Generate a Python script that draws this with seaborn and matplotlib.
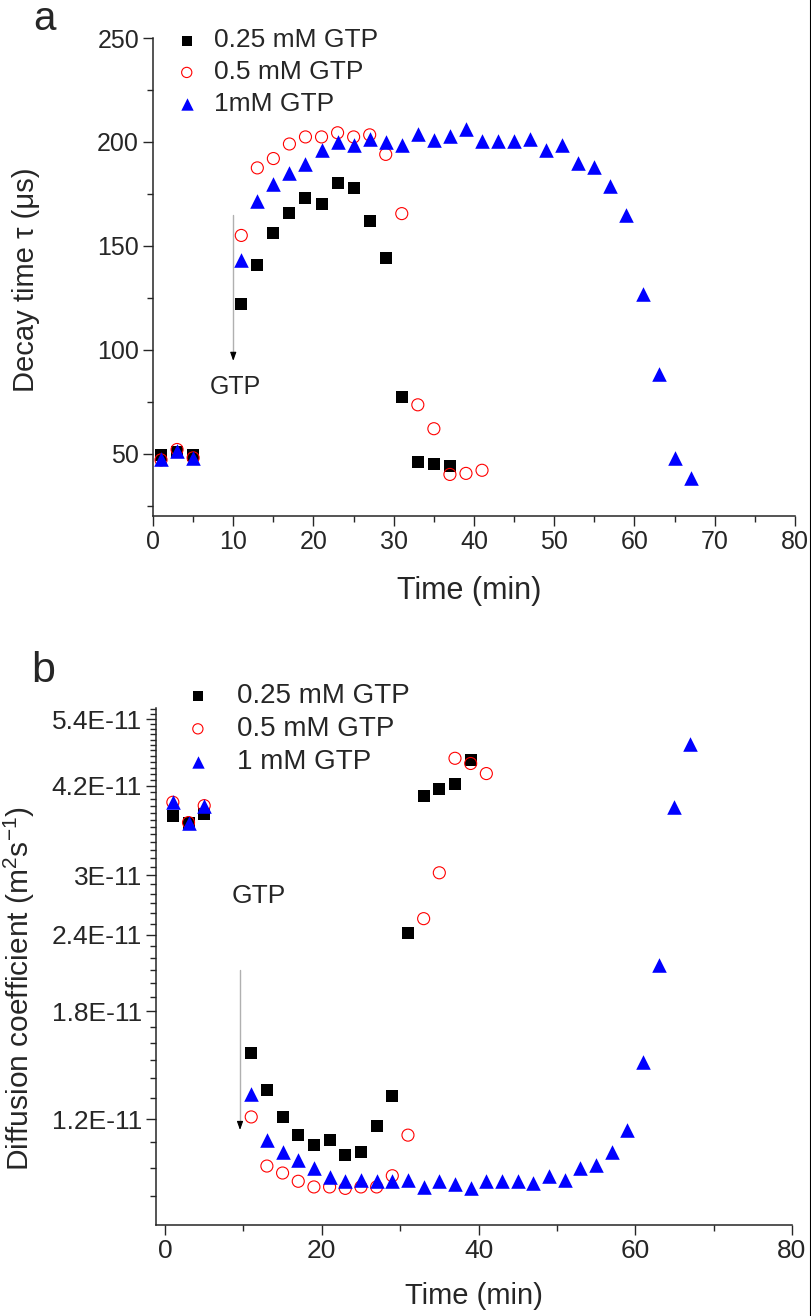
import numpy as np
import pandas as pd
import matplotlib
matplotlib.use("Agg")
import matplotlib.pyplot as plt
from matplotlib.lines import Line2D
from matplotlib.ticker import FixedLocator, MultipleLocator, NullFormatter
import seaborn as sns

# ======================================
# DATA  (panel a: decay time, us)
# ======================================

time_025_a = [1, 3, 5, 11, 13, 15, 17, 19, 21, 23, 25, 27, 29, 31, 33, 35, 37]
tau_025 = [49.5, 51, 49.5, 122, 141, 156, 166, 173, 170, 180, 178, 162, 144, 77.5, 46, 45, 44]

time_05_a = [1, 3, 5, 11, 13, 15, 17, 19, 21, 23, 25, 27, 29, 31, 33, 35, 37, 39, 41]
tau_05 = [47, 52, 48, 155, 187.5, 192, 199, 202.4, 202.4, 204.4, 202.4, 203.4, 194, 165.5,
          73.5, 62, 40, 40.5, 42]

time_1_a = [1, 3, 5, 11, 13, 15, 17, 19, 21, 23, 25, 27, 29, 31, 33, 35, 37, 39, 41,
            43, 45, 47, 49, 51, 53, 55, 57, 59, 61, 63, 65, 67]
tau_1 = [47.6, 51.5, 48, 143, 171.4, 179.6, 185, 189.5, 196, 200, 198.5, 201.5, 200,
         198.5, 204, 200.7, 203, 206, 200.4, 200.5, 200.5, 201.5, 196, 198.5, 190, 188,
         178.6, 165, 126.7, 88.5, 48, 38.5]

# ======================================
# DATA  (panel b: diffusion coefficient, 1E-11 m2/s)
# ======================================

time_025_b = [1, 3, 5, 11, 13, 15, 17, 19, 21, 23, 25, 27, 29, 31, 33, 35, 37, 39]
diff_025 = [3.75, 3.66, 3.78, 1.54, 1.34, 1.21, 1.13, 1.09, 1.11, 1.05, 1.06, 1.17, 1.31,
            2.42, 4.04, 4.15, 4.23, 4.63]

time_05_b = [1, 3, 5, 11, 13, 15, 17, 19, 21, 23, 25, 27, 29, 31, 33, 35, 37, 39, 41]
diff_05 = [3.95, 3.66, 3.9, 1.21, 1.006, 0.98, 0.95, 0.93, 0.93, 0.925, 0.93, 0.93, 0.97,
           1.13, 2.55, 3.03, 4.66, 4.57, 4.4]

time_1_b = [1, 3, 5, 11, 13, 15, 17, 19, 21, 23, 25, 27, 29, 31, 33, 35, 37, 39, 41,
            43, 45, 47, 49, 51, 53, 55, 57, 59, 61, 63, 65, 67]
diff_1 = [3.95, 3.66, 3.9, 1.32, 1.11, 1.06, 1.03, 1.00, 0.965, 0.95, 0.955, 0.95, 0.95,
          0.956, 0.93, 0.95, 0.94, 0.925, 0.95, 0.95, 0.95, 0.945, 0.97, 0.955, 1.0,
          1.01, 1.06, 1.15, 1.49, 2.14, 3.88, 4.91]

labels_a = ["0.25 mM GTP", "0.5 mM GTP", "1mM GTP"]
labels_b = ["0.25 mM GTP", "0.5 mM GTP", "1 mM GTP"]

yticks_b = [1.2e-11, 1.8e-11, 2.4e-11, 3e-11, 4.2e-11, 5.4e-11]
yticklabels_b = ["1.2E-11", "1.8E-11", "2.4E-11", "3E-11", "4.2E-11", "5.4E-11"]

# ======================================
# STYLE
# ======================================

sns.set_style("ticks")
plt.rcParams["font.family"] = ["Liberation Sans", "DejaVu Sans"]
plt.rcParams["mathtext.default"] = "regular"
plt.rcParams["axes.linewidth"] = 1.1

fig = plt.figure(figsize=(8.12, 13.16), dpi=100)
ax_a = fig.add_axes([153 / 812, 1 - 516 / 1316, 642 / 812, 478 / 1316])
ax_b = fig.add_axes([156 / 812, 1 - 1225 / 1316, 636 / 812, 517 / 1316])


def draw_series(ax, t, v, kind, label):
    df = pd.DataFrame({"t": t, "v": v})
    if kind == "square":
        sns.scatterplot(data=df, x="t", y="v", ax=ax, marker="s", s=70,
                        color="black", edgecolor="black", linewidth=0,
                        label=label, zorder=3)
    elif kind == "circle":
        sns.scatterplot(data=df, x="t", y="v", ax=ax, marker="o", s=75,
                        facecolors="none", edgecolor="red", linewidth=0.8,
                        label=label, zorder=4)
    else:
        sns.scatterplot(data=df, x="t", y="v", ax=ax, marker="^", s=110,
                        color="blue", edgecolor="blue", linewidth=0,
                        label=label, zorder=5)


# ======================================
# PANEL A
# ======================================

draw_series(ax_a, time_025_a, tau_025, "square", labels_a[0])
draw_series(ax_a, time_05_a, tau_05, "circle", labels_a[1])
draw_series(ax_a, time_1_a, tau_1, "triangle", labels_a[2])

ax_a.set_xlim(0, 80)
ax_a.set_ylim(20, 250)
ax_a.xaxis.set_major_locator(MultipleLocator(10))
ax_a.xaxis.set_minor_locator(MultipleLocator(5))
ax_a.yaxis.set_major_locator(FixedLocator([50, 100, 150, 200, 250]))
ax_a.yaxis.set_minor_locator(FixedLocator([25, 75, 125, 175, 225]))
ax_a.tick_params(which="major", direction="out", length=7, width=1, labelsize=18, pad=3)
ax_a.tick_params(which="minor", direction="out", length=4, width=1)
sns.despine(ax=ax_a)

ax_a.set_xlabel("Time (min)", fontsize=22)
ax_a.set_ylabel("Decay time τ (μs)", fontsize=21)
ax_a.xaxis.set_label_coords(0.492, -0.1255)
ax_a.yaxis.set_label_coords(-0.176, 0.494)

ax_a.plot([10, 10], [165, 96], color="#b0b0b0", lw=1)
ax_a.annotate("", xy=(10, 93.3), xytext=(10, 100),
              arrowprops=dict(arrowstyle="-|>,head_length=0.5,head_width=0.18",
                              color="black", lw=0.8))
ax_a.text(10.3, 82.2, "GTP", fontsize=18, ha="center", va="center")

ax_a.legend(loc="upper left", bbox_to_anchor=(0.032, 1.02), frameon=False,
            fontsize=19, handlelength=1.0, handletextpad=0.55, labelspacing=0.3,
            borderpad=0, borderaxespad=0, markerscale=0.85)

# ======================================
# PANEL B
# ======================================

draw_series(ax_b, time_025_b, [d * 1e-11 for d in diff_025], "square", labels_b[0])
draw_series(ax_b, time_05_b, [d * 1e-11 for d in diff_05], "circle", labels_b[1])
draw_series(ax_b, time_1_b, [d * 1e-11 for d in diff_1], "triangle", labels_b[2])

ax_b.set_yscale("log")
ax_b.set_xlim(-1.15, 80)
ax_b.set_ylim(8.06e-12, 5.63e-11)
ax_b.xaxis.set_major_locator(MultipleLocator(20))
ax_b.xaxis.set_minor_locator(MultipleLocator(10))
ax_b.yaxis.set_major_locator(FixedLocator(yticks_b))
ax_b.set_yticklabels(yticklabels_b)
minor_b = [k * 1e-12 for k in range(9, 57) if k not in (12, 18, 24, 30, 42, 54)]
ax_b.yaxis.set_minor_locator(FixedLocator(minor_b))
ax_b.yaxis.set_minor_formatter(NullFormatter())
ax_b.tick_params(which="major", direction="out", length=7, width=1, labelsize=19, pad=3)
ax_b.tick_params(which="minor", direction="out", length=4, width=1)
sns.despine(ax=ax_b)

ax_b.set_xlabel("Time (min)", fontsize=21)
ax_b.set_ylabel("Diffusion coefficient (m$^2$s$^{-1}$)", fontsize=21.5)
ax_b.xaxis.set_label_coords(0.5, -0.11)
ax_b.yaxis.set_label_coords(-0.187, 0.458)

ax_b.plot([9.57, 9.57], [2.10e-11, 1.17e-11], color="#b0b0b0", lw=1)
ax_b.annotate("", xy=(9.57, 1.14e-11), xytext=(9.57, 1.2e-11),
              arrowprops=dict(arrowstyle="-|>,head_length=0.5,head_width=0.18",
                              color="black", lw=0.8))
ax_b.text(12.0, 2.78e-11, "GTP", fontsize=19, ha="center", va="center")

ax_b.legend(loc="upper left", bbox_to_anchor=(0.044, 1.048), frameon=False,
            fontsize=20, handlelength=1.0, handletextpad=0.9, labelspacing=0.25,
            borderpad=0, borderaxespad=0, markerscale=0.85)

# ======================================
# PANEL LETTERS / BORDER
# ======================================

fig.text(33 / 812, 1 - 30 / 1316, "a", fontsize=29, ha="left", va="baseline")
fig.text(31 / 812, 1 - 682 / 1316, "b", fontsize=31, ha="left", va="baseline")
fig.add_artist(Line2D([0.9985, 0.9985], [0, 1], color="black", lw=1.5))

fig.savefig("out.png", dpi=100)
